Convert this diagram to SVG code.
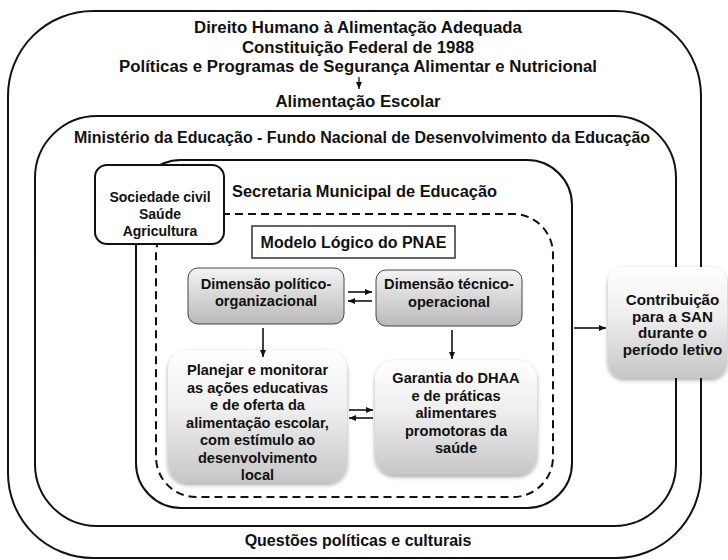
<svg xmlns="http://www.w3.org/2000/svg" width="728" height="560" viewBox="0 0 728 560">
<defs>
<style>
text{font-family:"Liberation Sans",Arial,sans-serif;font-weight:bold;fill:#111;text-anchor:middle}
.frame{fill:none;stroke:#111;stroke-width:2}
.dash{fill:none;stroke:#111;stroke-width:2;stroke-dasharray:8 5}
.t17{font-size:16.8px}
.t16{font-size:16px}
.t15{font-size:15.2px}
.t14{font-size:14.6px}
.dim{fill:url(#gDim);stroke:#444;stroke-width:1}
.soft{fill:url(#gSoft);filter:url(#sh)}
.conn{fill:none;stroke:#111;stroke-width:1.6}
</style>
<linearGradient id="gDim" x1="0" y1="0" x2="0" y2="1">
<stop offset="0" stop-color="#f4f4f4"/>
<stop offset="1" stop-color="#b9b9b9"/>
</linearGradient>
<linearGradient id="gSoft" x1="0" y1="0" x2="0" y2="1">
<stop offset="0" stop-color="#ffffff"/>
<stop offset="0.45" stop-color="#eeeeee"/>
<stop offset="1" stop-color="#c6c6c6"/>
</linearGradient>
<filter id="sh" x="-20%" y="-20%" width="140%" height="140%">
<feDropShadow dx="0" dy="2" stdDeviation="2" flood-color="#000" flood-opacity="0.35"/>
</filter>
<marker id="ah" markerUnits="userSpaceOnUse" markerWidth="7" markerHeight="6" refX="7" refY="3" orient="auto">
<path d="M0,0 L7,3 L0,6 z" fill="#111"/>
</marker>
</defs>

<g id="outer">
<rect class="frame" x="8" y="11" width="693" height="547" rx="85" ry="85"/>
<text class="t17" x="358" y="33">Direito Humano à Alimentação Adequada</text>
<text class="t17" x="358" y="52.5">Constituição Federal de 1988</text>
<text class="t17" x="358" y="72">Políticas e Programas de Segurança Alimentar e Nutricional</text>
<text class="t17" x="358" y="107">Alimentação Escolar</text>
<text class="t16" x="358" y="546">Questões políticas e culturais</text>
</g>

<g id="mec">
<rect class="frame" x="35" y="116" width="641" height="410" rx="62" ry="62"/>
<text class="t16" x="362" y="143">Ministério da Educação - Fundo Nacional de Desenvolvimento da Educação</text>
</g>

<g id="secretaria">
<rect class="frame" x="136" y="160" width="436" height="348" rx="45" ry="45"/>
<text class="t16" x="232" y="197" style="text-anchor:start;font-size:16.4px">Secretaria Municipal de Educação</text>
</g>

<g id="pnae">
<rect class="dash" x="156" y="214" width="397" height="283" rx="40" ry="40"/>
</g>

<g id="sociedade">
<rect x="95" y="165" width="129" height="79" rx="12" ry="12" fill="#fff" stroke="#111" stroke-width="2"/>
<text style="font-size:14px" x="160" y="202">Sociedade civil</text>
<text style="font-size:14px" x="160" y="219">Saúde</text>
<text style="font-size:14px" x="160" y="236">Agricultura</text>
</g>

<g id="modelo">
<rect x="252" y="226" width="203" height="32" fill="#fff" stroke="#333" stroke-width="1.5"/>
<text class="t16" x="353.5" y="248">Modelo Lógico do PNAE</text>
</g>

<g id="politico">
<rect class="dim" x="188" y="268" width="156" height="56" rx="10" ry="10"/>
<text class="t14" x="266" y="288.5">Dimensão político-</text>
<text class="t14" x="266" y="306">organizacional</text>
</g>

<g id="tecnico">
<rect class="dim" x="376" y="270" width="146" height="56" rx="10" ry="10"/>
<text class="t14" x="449" y="289">Dimensão técnico-</text>
<text class="t14" x="449" y="307">operacional</text>
</g>

<g id="planejar">
<rect class="soft" x="168" y="350" width="179" height="133" rx="20" ry="20"/>
<text class="t14" x="257.5" y="375">Planejar e monitorar</text>
<text class="t14" x="257.5" y="392.5">as ações educativas</text>
<text class="t14" x="257.5" y="410">e de oferta da</text>
<text class="t14" x="257.5" y="427.5">alimentação escolar,</text>
<text class="t14" x="257.5" y="445">com estímulo ao</text>
<text class="t14" x="257.5" y="462.5">desenvolvimento</text>
<text class="t14" x="257.5" y="480">local</text>
</g>

<g id="garantia">
<rect class="soft" x="375" y="360" width="162" height="115" rx="20" ry="20"/>
<text class="t14" x="456" y="383">Garantia do DHAA</text>
<text class="t14" x="456" y="400.5">e de práticas</text>
<text class="t14" x="456" y="418">alimentares</text>
<text class="t14" x="456" y="435.5">promotoras da</text>
<text class="t14" x="456" y="453">saúde</text>
</g>

<g id="contribuicao">
<rect class="soft" x="608" y="267" width="119" height="111" rx="16" ry="16"/>
<text class="t15" x="672.5" y="305">Contribuição</text>
<text class="t15" x="672.5" y="321.7">para a SAN</text>
<text class="t15" x="672.5" y="338.4">durante o</text>
<text class="t15" x="672.5" y="355">período letivo</text>
</g>

<g id="connectors">
<line class="conn" x1="359" y1="77" x2="359" y2="89" marker-end="url(#ah)" style="stroke-width:1.3"/>
<line class="conn" x1="348" y1="292" x2="372" y2="292" marker-end="url(#ah)"/>
<line class="conn" x1="372" y1="301" x2="348" y2="301" marker-end="url(#ah)"/>
<line class="conn" x1="263" y1="328" x2="263" y2="357" marker-end="url(#ah)"/>
<line class="conn" x1="452" y1="330" x2="452" y2="359" marker-end="url(#ah)"/>
<line class="conn" x1="349" y1="410" x2="373" y2="410" marker-end="url(#ah)"/>
<line class="conn" x1="373" y1="418" x2="349" y2="418" marker-end="url(#ah)"/>
<line class="conn" x1="574" y1="328" x2="606" y2="328" marker-end="url(#ah)"/>
</g>
</svg>
